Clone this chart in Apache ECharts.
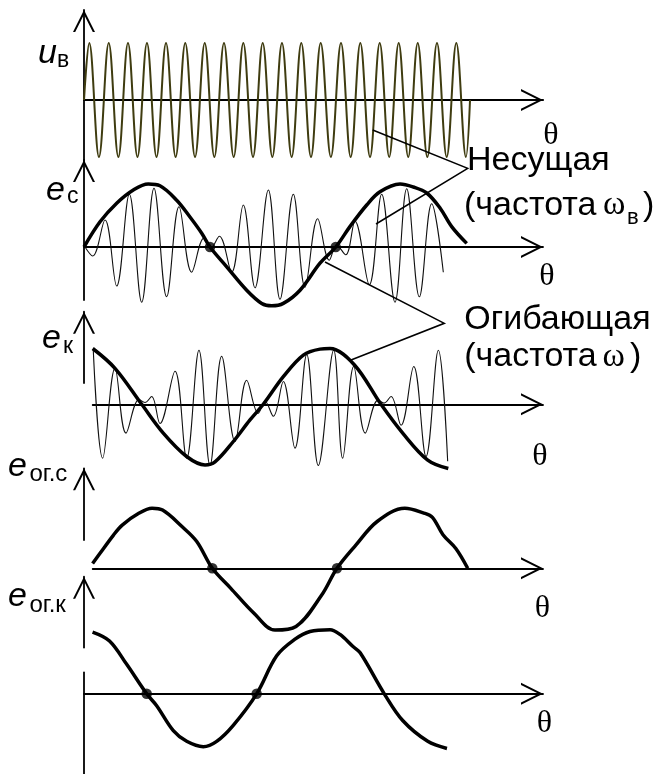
<!DOCTYPE html>
<html><head><meta charset="utf-8">
<script src="https://cdn.jsdelivr.net/npm/echarts@6/dist/echarts.min.js"></script>
<style>html,body{margin:0;padding:0;background:#fff}#c{width:662px;height:774px}</style>
</head><body><div id="c"></div>
<script>
// ---------------- DATA (θ in degrees of the envelope frequency, amplitude normalised) ----------------
// Panel 1: carrier u_в (extreme points)
const uB_theta = [0, 7.5, 21.3, 35.2, 48.9, 62.6, 76.1, 89.6, 103.2, 116.7, 130.4, 144.1, 158.0, 171.8, 185.5, 199.2, 213.0, 226.7, 240.5, 254.3, 268.0, 281.7, 295.5, 309.2, 323.0, 336.8, 351.3, 365.7, 379.5, 393.2, 407.0, 420.8, 434.3, 447.8, 461.4, 474.9, 488.6, 502.3, 516.1, 529.8, 543.5, 549.3];
const uB_val = [0, 0.95, -0.95, 0.95, -0.95, 0.95, -0.95, 0.95, -0.95, 0.95, -0.95, 0.95, -0.95, 0.95, -0.95, 0.95, -0.95, 0.95, -0.95, 0.95, -0.95, 0.95, -0.95, 0.95, -0.95, 0.95, -0.95, 0.95, -0.95, 0.95, -0.95, 0.95, -0.95, 0.95, -0.95, 0.95, -0.95, 0.95, -0.95, 0.95, -0.95, 0];

// Panel 2: e_с — modulated carrier (thin) and envelope (thick)
const ecCar_theta = [1.4, 12.3, 29.9, 46.5, 64.5, 82.1, 99.6, 117.6, 135.2, 153.2, 170.8, 180.2, 192.6, 210.1, 226.7, 243.3, 262.3, 278.9, 297.9, 314.5, 332.5, 349.1, 359.5, 372.4, 385.6, 406.0, 423.6, 442.5, 459.2, 477.2, 494.7, 511.3];
const ecCar_val = [0, -0.15, 0.45, -0.65, 0.88, -0.92, 0.98, -0.83, 0.67, -0.42, 0.15, -0.02, 0.18, -0.42, 0.70, -0.68, 0.95, -0.87, 0.88, -0.67, 0.47, -0.22, 0.03, -0.13, 0.43, -0.63, 0.88, -0.92, 0.97, -0.83, 0.72, -0.42];
const ecEnv_theta = [0, 22.8, 46.5, 70.2, 91.5, 108.1, 131.9, 150.8, 167.5, 179.3, 203.1, 231.5, 252.9, 267.1, 283.6, 307.4, 335.8, 358.2, 378.4, 402.3, 421.2, 449.7, 468.6, 487.7, 506.6, 523.2, 544.6];
const ecEnv_val = [0, 0.42, 0.73, 0.95, 1.05, 1.02, 0.78, 0.50, 0.23, 0, -0.33, -0.72, -0.94, -0.98, -0.94, -0.72, -0.27, 0, 0.34, 0.70, 0.92, 1.05, 1.00, 0.90, 0.65, 0.34, 0.06];
const ecDots_theta = [179.3, 358.2];

// Panel 3: e_к — modulated carrier (thin) and envelope (thick)
const ekCar_theta = [13.2, 26.6, 44.1, 59.8, 78.3, 86.8, 96.3, 108.1, 129.5, 146.1, 163.6, 179.3, 195.9, 214.9, 231.5, 248.0, 257.6, 269.4, 283.6, 300.2, 316.9, 333.4, 355.3, 368.1, 383.8, 400.3, 418.4, 426.9, 436.9, 451.1, 469.2, 486.7, 504.2, 517.5];
const ekCar_val = [0.90, -0.90, 0.60, -0.48, 0.08, 0.03, 0.13, -0.32, 0.55, -0.90, 0.90, -1.02, 0.80, -0.62, 0.40, -0.15, 0.05, -0.20, 0.38, -0.73, 0.83, -1.02, 0.90, -0.90, 0.63, -0.48, 0.07, 0.02, 0.13, -0.35, 0.63, -0.87, 0.90, -0.95];
const ekEnv_theta = [12.4, 44.1, 82.1, 112.8, 146.1, 172.2, 186.4, 212.5, 236.2, 255.1, 283.6, 312.1, 335.8, 350.1, 384.6, 422.6, 453.5, 489.1, 518.4];
const ekEnv_val = [0.93, 0.60, 0, -0.48, -0.87, -1.01, -0.96, -0.62, -0.26, 0, 0.46, 0.82, 0.92, 0.93, 0.66, 0, -0.48, -0.93, -1.07];

// Panel 4: e_ог.с
const eogc_theta = [12.2, 22.8, 41.7, 54.4, 78.5, 96.8, 111.8, 139.0, 160.2, 182.6, 208.6, 241.9, 271.8, 301.7, 338.0, 360.0, 387.1, 417.2, 456.5, 483.8, 495.8, 510.8, 529.1, 546.0];
const eogc_val = [0.08, 0.25, 0.55, 0.72, 0.92, 1.00, 0.97, 0.70, 0.45, 0, -0.33, -0.75, -1.03, -0.97, -0.45, 0, 0.39, 0.78, 1.00, 0.92, 0.85, 0.56, 0.33, 0];
const eogcDots_theta = [182.6, 360.0];

// Panel 5: e_ог.к
const eogk_theta = [12.2, 36.3, 60.5, 89.2, 103.4, 127.1, 146.1, 169.8, 188.8, 212.4, 245.7, 274.2, 300.3, 321.6, 350.1, 364.3, 382.4, 393.0, 427.3, 453.5, 489.1, 516.5];
const eogk_val = [1.04, 0.89, 0.50, 0, -0.20, -0.62, -0.80, -0.89, -0.80, -0.53, 0, 0.64, 0.92, 1.05, 1.08, 1.00, 0.80, 0.69, 0, -0.45, -0.80, -0.92];
const eogkDots_theta = [89.2, 245.7];

// ---------------- LAYOUT ----------------
const X0 = 84;          // px of θ = 0
const PXU = 0.70275;    // px per degree
const PYU = 60;         // px per amplitude unit
const XEND = 543;       // arrow tip of θ axes
const PANELS = [
  {yTop: 10,    yBot: 160,   xY: 100,   xStart: 84},
  {yTop: 160,   yBot: 300,   xY: 247,   xStart: 84},
  {yTop: 311.7, yBot: 383,   xY: 404.3, xStart: 92.7},
  {yTop: 468.3, yBot: 540,   xY: 568.3, xStart: 92.7},
  {yTop: 576.7, yBot: 776,   xY: 695,   xStart: 84}
];
const CHEV = 'path://M0,100 L50,0 L100,100 L90,100 L50,20 L10,100 Z';
const zip = (a, b) => a.map((v, i) => [v, b[i]]);

const grids = [], xAxes = [], yAxes = [];
PANELS.forEach((p, i) => {
  const inside = p.xY <= p.yBot;
  grids.push({left: p.xStart, top: p.yTop, width: XEND - p.xStart, height: p.yBot - p.yTop, containLabel: false});
  xAxes.push({
    type: 'value', gridIndex: i, min: (p.xStart - X0) / PXU, max: (XEND - X0) / PXU,
    position: 'bottom', offset: inside ? 0 : (p.xY - p.yBot),
    axisLine: {show: true, onZero: inside, symbol: ['none', CHEV], symbolSize: [23, 22], symbolOffset: [0, -11],
      lineStyle: {color: '#000', width: i === 0 ? 2.2 : 1.8}},
    axisTick: {show: false}, axisLabel: {show: false}, splitLine: {show: false}
  });
  yAxes.push({
    type: 'value', gridIndex: i, min: -(p.yBot - p.xY) / PYU, max: (p.xY - p.yTop) / PYU,
    position: 'left', offset: p.xStart - X0,
    axisLine: {show: true, onZero: false, symbol: ['none', CHEV], symbolSize: [23, 22], symbolOffset: [0, -11],
      lineStyle: {color: '#000', width: 1.8}},
    axisTick: {show: false}, axisLabel: {show: false}, splitLine: {show: false}
  });
});

function lineS(i, th, v, color, width, smooth) {
  return {type: 'line', xAxisIndex: i, yAxisIndex: i, data: zip(th, v), showSymbol: false, symbol: 'none',
    smooth: smooth, clip: false, silent: true, lineStyle: {color: color, width: width}, z: 3};
}
function dotS(i, th) {
  return {type: 'scatter', xAxisIndex: i, yAxisIndex: i, data: th.map(t => [t, 0]), symbolSize: 10.5,
    itemStyle: {color: '#000'}, clip: false, silent: true, z: 5};
}

const series = [
  lineS(0, uB_theta, uB_val, '#3f3c10', 2, 0.38),
  lineS(1, ecCar_theta, ecCar_val, '#111', 1.1, 0.38),
  lineS(1, ecEnv_theta, ecEnv_val, '#000', 3.5, 0.35),
  dotS(1, ecDots_theta),
  lineS(2, ekCar_theta, ekCar_val, '#111', 1.1, 0.38),
  lineS(2, ekEnv_theta, ekEnv_val, '#000', 3.5, 0.35),
  lineS(3, eogc_theta, eogc_val, '#000', 3.5, 0.35),
  dotS(3, eogcDots_theta),
  lineS(4, eogk_theta, eogk_val, '#000', 3.5, 0.35),
  dotS(4, eogkDots_theta)
];

// ---------------- TEXT ----------------
const SANS = '"Liberation Sans", Arial, sans-serif';
const SERIF = '"Liberation Serif", "Times New Roman", serif';
function txt(x, baseline, s, size, family, italic, align) {
  const asc = family === SERIF ? 0.3375 : 0.3465;
  return {type: 'text', x: x, y: baseline - asc * size, z: 20, silent: true,
    style: {text: s, font: (italic ? 'italic ' : '') + size + 'px ' + family, fill: '#000',
      align: align || 'left', verticalAlign: 'middle', textAlign: align || 'left', textVerticalAlign: 'middle'}};
}
function thetaLbl(cx, cy) {
  return {type: 'text', x: cx, y: cy, z: 20, silent: true,
    style: {text: 'θ', font: '32px ' + SERIF, fill: '#000', align: 'center', verticalAlign: 'middle',
      textAlign: 'center', textVerticalAlign: 'middle'}};
}
const graphics = [
  txt(38, 65, 'u', 34, SANS, true), txt(57, 68.5, 'в', 23, SANS, false),
  txt(46, 202, 'e', 34, SANS, true), txt(67, 204.5, 'с', 23, SANS, false),
  txt(42, 350, 'e', 34, SANS, true), txt(63, 354.5, 'к', 23, SANS, false),
  txt(8, 478.3, 'e', 34, SANS, true), txt(29.5, 482.7, 'ог.с', 24, SANS, false),
  txt(8, 608.3, 'e', 34, SANS, true), txt(29.5, 614, 'ог.к', 24, SANS, false),
  thetaLbl(551, 136), thetaLbl(547, 277), thetaLbl(540, 457), thetaLbl(542.5, 608.5), thetaLbl(544.5, 723.5),
  txt(467, 172, 'Несущая', 34, SANS, false),
  txt(464, 217, '(частота', 34, SANS, false),
  txt(603, 217, 'ω', 34, SERIF, false),
  txt(627, 226, 'в', 22, SANS, false),
  txt(643, 217, ')', 34, SANS, false),
  txt(464.3, 331.7, 'Огибающая', 34, SANS, false),
  txt(464.3, 368.3, '(частота', 34, SANS, false),
  txt(602.5, 368.3, 'ω', 34, SERIF, false),
  txt(630, 368.3, ')', 34, SANS, false),
  {type: 'polyline', z: 10, silent: true, shape: {points: [[372.7, 130], [467.7, 168.3], [376, 224]]},
    style: {stroke: '#000', lineWidth: 1.5, fill: null}},
  {type: 'polyline', z: 10, silent: true, shape: {points: [[325, 262], [444.3, 323.3], [351, 360]]},
    style: {stroke: '#000', lineWidth: 1.5, fill: null}},
  {type: 'rect', z: 10, silent: true, shape: {x: 79, y: 648.3, width: 10, height: 23.4}, style: {fill: '#fff'}}
];

const chart = echarts.init(document.getElementById('c'), null, {renderer: 'canvas'});
chart.setOption({
  animation: false,
  backgroundColor: '#fff',
  grid: grids, xAxis: xAxes, yAxis: yAxes,
  series: series,
  graphic: {elements: graphics}
});
</script>
</body></html>
